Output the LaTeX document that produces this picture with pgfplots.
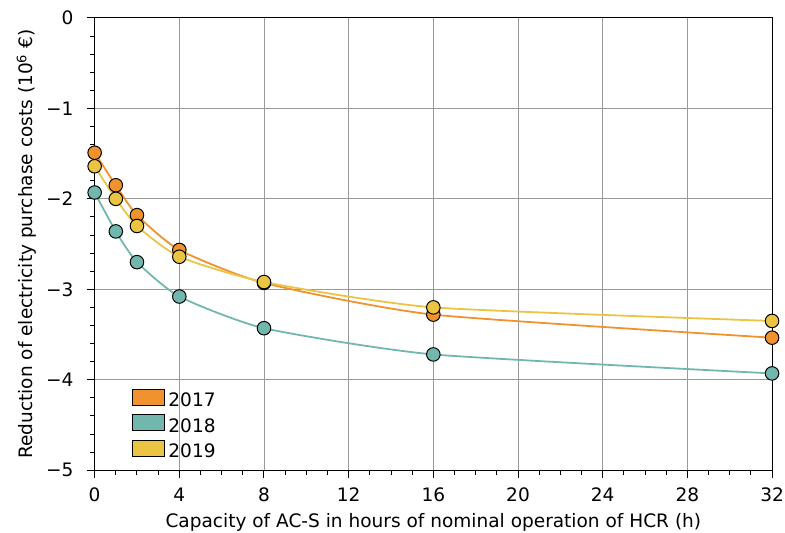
\documentclass[border=0pt]{standalone}
\usepackage{fontspec}
\setmainfont{DejaVu Sans}
\usepackage{pgfplots}
\pgfplotsset{compat=1.18}
\usetikzlibrary{calc}
\definecolor{c17}{HTML}{F0922E}
\definecolor{c18}{HTML}{72B7AE}
\definecolor{c19}{HTML}{EBC444}
\begin{document}
\fontsize{18.6}{22}\selectfont
\begin{tikzpicture}
\begin{axis}[
  scale only axis, width=680pt, height=454pt,
  xmin=0, xmax=32, ymin=-5, ymax=0,
  xtick={0,4,...,32}, ytick={-5,-4,...,0},
  yticklabels={−5,−4,−3,−2,−1,0},
  minor xtick={0,1,...,32}, minor ytick={-5,-4.8,...,0},
  grid=major, grid style={gray!80, line width=0.9pt},
  tick align=outside, tick pos=left,
  major tick length=8pt, minor tick length=4.5pt,
  every tick/.style={black, line width=1pt},
  axis line style={black, line width=1pt},
  /pgf/number format/assume math mode=true,
  ticklabel style={font=\fontsize{18.6}{22}\selectfont},
  yticklabel style={xshift=-7pt},
  xticklabel style={yshift=-3pt},
  label style={font=\fontsize{18.6}{22}\selectfont},
  ylabel style={yshift=-3pt},
  xlabel style={yshift=1pt},
  xlabel={Capacity of AC-S in hours of nominal operation of HCR (h)},
  ylabel={Reduction of electricity purchase costs (10\textsuperscript{6} €)},
  legend style={draw=none, fill=none, at={(0.05,0.012)}, anchor=south west, font=\fontsize{18.6}{22}\selectfont, row sep=3pt},
  legend cell align=left,
  legend image code/.code={\draw[#1, draw=black, line width=0.9pt] (0pt,-4pt) rectangle (32pt,12pt);},
]
\addplot[c17, line width=1.8pt, smooth, tension=0.35, forget plot] coordinates {(0,-1.49)(1,-1.85)(2,-2.18)(4,-2.565)(8,-2.93)(16,-3.28)(32,-3.535)};
\addplot[c18, line width=1.8pt, smooth, tension=0.35, forget plot] coordinates {(0,-1.93)(1,-2.36)(2,-2.70)(4,-3.08)(8,-3.43)(16,-3.72)(32,-3.93)};
\addplot[c19, line width=1.8pt, smooth, tension=0.35, forget plot] coordinates {(0,-1.64)(1,-2.0)(2,-2.30)(4,-2.64)(8,-2.92)(16,-3.20)(32,-3.35)};
\addplot[only marks, mark=*, mark size=6.8pt, mark options={fill=c17, draw=black, line width=1pt}, forget plot] coordinates {(0,-1.49)(1,-1.85)(2,-2.18)(4,-2.565)(8,-2.93)(16,-3.28)(32,-3.535)};
\addplot[only marks, mark=*, mark size=6.8pt, mark options={fill=c18, draw=black, line width=1pt}, forget plot] coordinates {(0,-1.93)(1,-2.36)(2,-2.70)(4,-3.08)(8,-3.43)(16,-3.72)(32,-3.93)};
\addplot[only marks, mark=*, mark size=6.8pt, mark options={fill=c19, draw=black, line width=1pt}, forget plot] coordinates {(0,-1.64)(1,-2.0)(2,-2.30)(4,-2.64)(8,-2.92)(16,-3.20)(32,-3.35)};
\addlegendimage{fill=c17}\addlegendentry{\hspace{2pt}2017}
\addlegendimage{fill=c18}\addlegendentry{\hspace{2pt}2018}
\addlegendimage{fill=c19}\addlegendentry{\hspace{2pt}2019}
\end{axis}
\pgfresetboundingbox
\path[use as bounding box] ($(current axis.south west)+(-95pt,-63pt)$) rectangle ($(current axis.north east)+(13pt,18pt)$);
\end{tikzpicture}
\end{document}
